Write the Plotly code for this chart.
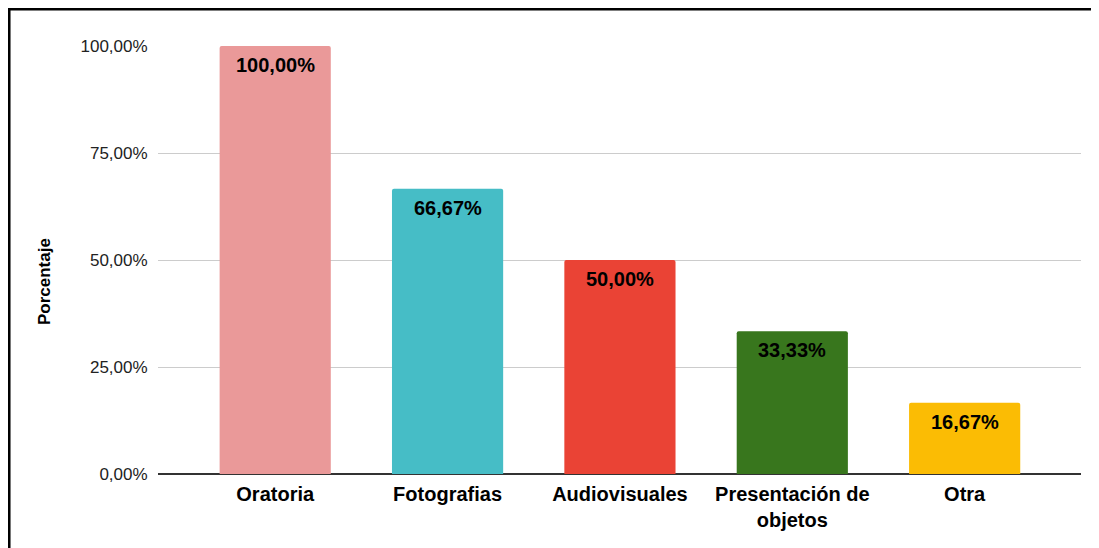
import plotly.graph_objects as go

categorias = ["Oratoria", "Fotografias", "Audiovisuales", "Presentación de<br>objetos", "Otra"]
porcentajes = [100.00, 66.67, 50.00, 33.33, 16.67]
colores = ["#EA9999", "#46BDC6", "#EA4335", "#38761D", "#FBBC04"]
ticks_y = [0, 25, 50, 75, 100]

FONT = "Arial, Liberation Sans, sans-serif"


def formato(v):
    return f"{v:.2f}".replace(".", ",") + "%"


xs = list(range(len(categorias)))

fig = go.Figure()

fig.add_trace(go.Bar(
    x=xs,
    y=porcentajes,
    marker=dict(color=colores, line=dict(width=0), cornerradius=2),
    width=0.645,
    hoverinfo="skip",
))

# etiquetas dentro de las barras, cerca del borde superior
for x, v in zip(xs, porcentajes):
    fig.add_annotation(
        x=x, y=v, xref="x", yref="y",
        text="<b>" + formato(v) + "</b>",
        showarrow=False,
        yanchor="top",
        yshift=-6,
        font=dict(family=FONT, size=20, color="#000000"),
    )

# título del eje Y (centrado en la altura total del gráfico)
fig.add_annotation(
    x=-0.1224, y=0.4486, xref="paper", yref="paper",
    text="<b>Porcentaje</b>",
    textangle=-90,
    showarrow=False,
    xanchor="center", yanchor="middle",
    font=dict(family=FONT, size=17, color="#000000"),
)

fig.update_layout(
    width=1099,
    height=548,
    margin=dict(l=150, r=26, t=38, b=82),
    paper_bgcolor="white",
    plot_bgcolor="white",
    showlegend=False,
    font=dict(family=FONT, color="#222222"),
)

fig.update_xaxes(
    range=[-0.68, 4.675],
    tickvals=xs,
    ticktext=["<b>" + c.replace("<br>", "</b><br><b>") + "</b>" for c in categorias],
    tickfont=dict(family=FONT, size=20, color="#000000"),
    showgrid=False,
    showline=False,
    zeroline=False,
    ticks="outside",
    ticklen=2,
    tickcolor="rgba(0,0,0,0)",
)

fig.update_yaxes(
    range=[0, 100],
    tickvals=ticks_y,
    ticktext=[formato(v) for v in ticks_y],
    tickfont=dict(family=FONT, size=17, color="#222222"),
    showgrid=True,
    gridcolor="#cccccc",
    gridwidth=1,
    zeroline=True,
    zerolinecolor="#333333",
    zerolinewidth=2,
    showline=False,
    ticks="outside",
    ticklen=6,
    tickcolor="rgba(0,0,0,0)",
)

# marco negro alrededor del gráfico
fig.add_shape(
    type="rect", xref="paper", yref="paper",
    x0=-0.1614, x1=1.1, y0=-0.3, y1=1.0864,
    line=dict(color="#000000", width=3),
    fillcolor="rgba(0,0,0,0)",
    layer="above",
)

fig.write_html("out.html")
